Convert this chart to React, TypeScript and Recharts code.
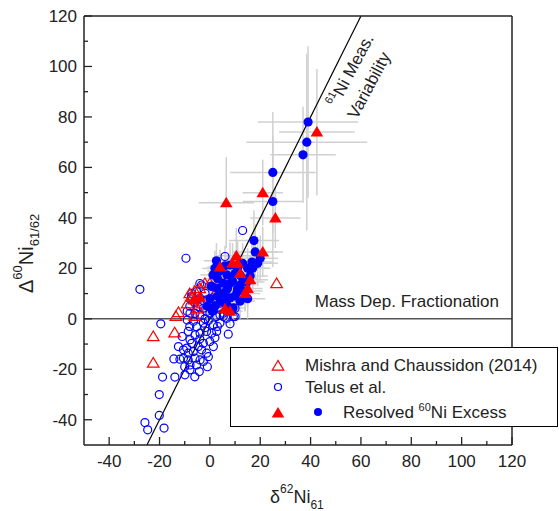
import React from "react"
import { ScatterChart, Scatter, XAxis, YAxis, ReferenceLine, ErrorBar } from "recharts"

// Telus et al. – unresolved (open circles)
const telusOpen: number[][] = [
  [-19.5, -2], [-8.6, -5], [-5.3, -3.1], [-2.6, -1.7], [-0.6, -0.7], [1.4, -2.4], [4, -1.7], [6.7, 0.2], [10, 0.9], [7.3, -6.1],
  [-7.9, -8.3], [-5.9, -6.4], [-3.9, -5.7], [-1.3, -5], [0.7, -5.7], [2.7, -5], [-9.2, -11.6], [-7.2, -9.7], [-4.6, -11], [-2.6, -9.7],
  [0, -9], [1.4, -11], [-10.5, -12.3], [-8.6, -13.6], [-6.6, -13], [-3.3, -12.3], [-1.3, -13.6], [-10.5, -15.6], [-11.9, -16], [-14.3, -15.9],
  [-8.6, -16.3], [-5.9, -15.6], [-3.9, -16.3], [-0.6, -15], [-7.9, -18.3], [-5.3, -18.3], [-2.6, -16.9], [-9.9, -22.2], [-7.9, -20.2], [-4.2, -20.9],
  [-13.9, -23.1], [-18.8, -23.1], [-20.1, -30], [-20.1, -38.3], [-25.8, -41.1], [-24.7, -44], [-18.2, -43.3], [4, 1.6], [5.3, 2.2], [1.4, 3.5],
  [-1.3, 2.9], [-3.9, 1.6], [-5.9, 2.2], [-9.5, 24], [-27.8, 11.7], [-3.3, 13.4], [-5.3, 10.8], [-1.9, 10.1], [-3.9, 8.2], [-1.3, 7.5],
  [-4.6, 4.8], [-2.6, 4.2], [0.7, 4.8], [-7.2, 10.1], [-7.9, 2.2], [0, 2.2], [2.7, 0.9], [5.3, 0.9], [9.3, 0.9], [10, 4.2],
  [6.7, 11.5], [6, 24.7], [0.7, 12.8], [2.7, 10.1], [4, 6.2], [6, 7.5], [13, 35], [-9, -0.5], [-6.5, -1], [-11, -7],
  [-12.5, -11], [-8, -3], [-2, -3.5], [2, -7.5], [-6, -23], [-10, -19], [-1, -19], [3, -3], [-4, -8], [8, -2],
  [-8, 5], [-6, 6.5], [3, 8], [-2, 0], [-4, 14], [-7.3, 8.8], [-9, 3],
]

// Mishra and Chaussidon (2014) – unresolved (open triangles)
const mishraOpen: number[][] = [
  [26.5, 14], [-12.5, 2.5], [-13.5, 1], [-22.5, -7], [-14, -5.5], [-22.5, -17.5], [-6, 11], [-7, 8.5], [-2, 14],
  [0, 14], [-6, 1], [-4, 12], [-8, 10], [2, 10], [-3, 6], [-5, 4], [4, 15], [-9, 6],
]

// resolved 60Ni excess: [x, y, xErr, yErr]
const telusResolved: number[][] = [
  [39, 78, 20, 30], [38.5, 70, 24, 35], [37, 65, 13, 19], [25, 58, 17, 24], [25, 46.5, 12, 26], [17.5, 31, 10, 12],
  [18, 26.5, 9, 11], [20, 24, 7, 9], [16.7, 22.5, 8, 9], [15, 20, 7, 8], [12, 17.4, 6, 8], [10.8, 10.6, 6, 7],
  [8, 21.3, 7, 9], [6.8, 17.4, 6, 8], [5.2, 14.2, 5, 7], [2.8, 12.2, 5, 6], [4, 6.7, 4, 6], [8, 8.3, 5, 6],
  [12, 13.4, 6, 7], [1.2, 17.4, 5, 7], [6.8, 5.5, 5, 6], [9.2, 4.3, 5, 6], [14.7, 14.6, 7, 8], [1, 3, 4, 5],
  [2, 5, 4, 5], [3, 9, 4, 6], [0, 8, 4, 5], [5, 10, 5, 6], [7, 12, 5, 7], [9, 15, 6, 7], [10, 18, 6, 8],
  [11, 20, 6, 8], [13, 16, 6, 7], [14, 11, 7, 8], [16, 17, 7, 8], [17, 20, 7, 9], [19, 22, 8, 9], [3, 16, 5, 7],
  [4, 19, 5, 7], [6, 21, 6, 8], [8, 14, 6, 7], [10, 9, 6, 7], [12, 7, 6, 7], [15, 8, 7, 8], [-1, 5, 4, 5],
  [0.5, 13, 4, 6], [2, 20, 5, 7], [11, 12, 6, 7], [13, 22, 7, 8], [7, 8, 5, 6], [2.6, 23, 5, 7],
]

const mishraResolved: number[][] = [
  [42.5, 74, 15, 25], [21, 50, 8, 13], [6.5, 46, 11, 18], [26, 40, 10, 12], [21, 26.5, 8, 10], [10.5, 25, 8, 11],
  [11, 22, 6, 9], [16, 15.5, 7, 8], [15, 12, 6, 8], [-6.5, 7.5, 4, 6], [-4, 8.5, 4, 6], [4, 20.5, 5, 7],
  [9, 22, 6, 8], [12, 18, 6, 8], [14, 10, 6, 7], [6, 4, 5, 6], [8, 3, 5, 6],
]

const axisTicks = [-40, -30, -20, -10, 0, 10, 20, 30, 40, 50, 60, 70, 80, 90, 100, 110, 120]
const DOMAIN: [number, number] = [-50, 120]

const toPts = (arr: number[][]) => arr.map(([x, y, ex, ey]) => ({ x, y, ex: ex ?? 0, ey: ey ?? 0 }))

const RED = "#ff0000"
const BLUE = "#0000ff"
const INK = "#222"
const FONT = "'Liberation Sans', Arial, sans-serif"

const isMajor = (v: number) => v % 20 === 0

const BottomTick = ({ x, y, payload }: any) => {
  const major = isMajor(payload.value)
  return (
    <g>
      <line x1={x} y1={y} x2={x} y2={y - (major ? 8 : 4)} stroke={INK} strokeWidth={1.3} />
      {major && (
        <text x={x} y={y + 22} textAnchor="middle" fontSize={17} fill={INK}>
          {payload.value}
        </text>
      )}
    </g>
  )
}

const LeftTick = ({ x, y, payload }: any) => {
  const major = isMajor(payload.value)
  return (
    <g>
      <line x1={x} y1={y} x2={x + (major ? 8 : 4)} y2={y} stroke={INK} strokeWidth={1.3} />
      {major && (
        <text x={x - 7} y={y + 6} textAnchor="end" fontSize={17} fill={INK}>
          {payload.value}
        </text>
      )}
    </g>
  )
}

const TopTick = ({ x, y, payload }: any) => (
  <line x1={x} y1={y} x2={x} y2={y + (isMajor(payload.value) ? 8 : 4)} stroke={INK} strokeWidth={1.3} />
)

const RightTick = ({ x, y, payload }: any) => (
  <line x1={x} y1={y} x2={x - (isMajor(payload.value) ? 8 : 4)} y2={y} stroke={INK} strokeWidth={1.3} />
)

const triPts = (cx: number, cy: number, s: number) =>
  `${cx},${cy - s} ${cx - s * 1.05},${cy + s * 0.75} ${cx + s * 1.05},${cy + s * 0.75}`

const OpenCircle = ({ cx, cy }: any) => <circle cx={cx} cy={cy} r={4} fill="none" stroke={BLUE} strokeWidth={1.2} />
const FilledCircle = ({ cx, cy }: any) => <circle cx={cx} cy={cy} r={4.6} fill={BLUE} />
const OpenTri = ({ cx, cy }: any) => <polygon points={triPts(cx, cy, 5.5)} fill="none" stroke={RED} strokeWidth={1.2} />
const FilledTri = ({ cx, cy }: any) => <polygon points={triPts(cx, cy, 6)} fill={RED} />
const NoMark = () => <g />

export default function App() {
  const errData = [...toPts(telusResolved), ...toPts(mishraResolved)]
  return (
    <div style={{ position: "absolute", left: 0, top: 0, width: 559, height: 511, background: "#fff", fontFamily: FONT }}>
      <ScatterChart width={559} height={511} margin={{ top: 15, right: 46, bottom: 36, left: 24 }}>
        <XAxis
          type="number"
          dataKey="x"
          domain={DOMAIN}
          ticks={axisTicks}
          interval={0}
          height={30}
          tickSize={0}
          tickMargin={0}
          tickLine={false}
          tick={<BottomTick />}
          axisLine={{ stroke: INK, strokeWidth: 1.5 }}
        />
        <XAxis
          xAxisId="top"
          orientation="top"
          type="number"
          dataKey="x"
          domain={DOMAIN}
          ticks={axisTicks}
          interval={0}
          height={1}
          tickSize={0}
          tickMargin={0}
          tickLine={false}
          tick={<TopTick />}
          axisLine={{ stroke: INK, strokeWidth: 1.5 }}
        />
        <YAxis
          type="number"
          dataKey="y"
          domain={DOMAIN}
          ticks={axisTicks}
          interval={0}
          width={60}
          tickSize={0}
          tickMargin={0}
          tickLine={false}
          tick={<LeftTick />}
          axisLine={{ stroke: INK, strokeWidth: 1.5 }}
        />
        <YAxis
          yAxisId="right"
          orientation="right"
          type="number"
          dataKey="y"
          domain={DOMAIN}
          ticks={axisTicks}
          interval={0}
          width={1}
          tickSize={0}
          tickMargin={0}
          tickLine={false}
          tick={<RightTick />}
          axisLine={{ stroke: INK, strokeWidth: 1.5 }}
        />
        <Scatter xAxisId="top" yAxisId="right" data={[]} isAnimationActive={false} shape={<NoMark />} />

        <ReferenceLine y={0} stroke="#555" strokeWidth={1.5} />

        <Scatter data={errData} isAnimationActive={false} shape={<NoMark />}>
          <ErrorBar dataKey="ex" direction="x" width={0} stroke="#d0d0d0" strokeWidth={1.5} isAnimationActive={false} />
          <ErrorBar dataKey="ey" direction="y" width={0} stroke="#d0d0d0" strokeWidth={1.5} isAnimationActive={false} />
        </Scatter>

        <ReferenceLine
          segment={[{ x: -25, y: -50 }, { x: 60, y: 120 }]}
          stroke="#000"
          strokeWidth={1.2}
        />

        <Scatter data={toPts(telusOpen)} isAnimationActive={false} shape={<OpenCircle />} />
        <Scatter data={toPts(mishraOpen)} isAnimationActive={false} shape={<OpenTri />} />
        <Scatter data={toPts(telusResolved)} isAnimationActive={false} shape={<FilledCircle />} />
        <Scatter data={toPts(mishraResolved)} isAnimationActive={false} shape={<FilledTri />} />
      </ScatterChart>

      {/* annotations, axis titles and legend */}
      <svg width={559} height={511} style={{ position: "absolute", left: 0, top: 0, pointerEvents: "none" }}>
        <text x={499} y={307} textAnchor="end" fontSize={17} fill={INK}>
          Mass Dep. Fractionation
        </text>

        <g transform="translate(337,108) rotate(-62)" fill={INK}>
          <text x={0} y={0} fontSize={17}>
            <tspan fontSize={11} dy={-7}>61</tspan>
            <tspan dy={7}>Ni Meas.</tspan>
          </text>
        </g>
        <g transform="translate(357,120) rotate(-62)" fill={INK}>
          <text x={0} y={0} fontSize={17}>Variability</text>
        </g>

        {/* x title */}
        <text x={270} y={503} fontSize={18} fill={INK}>
          <tspan>δ</tspan>
          <tspan fontSize={12} dy={-10}>62</tspan>
          <tspan dy={10}>Ni</tspan>
          <tspan fontSize={12} dy={6}>61</tspan>
        </text>

        {/* y title */}
        <g transform="translate(33,293) rotate(-90)">
          <text x={0} y={0} fontSize={20} fill={INK}>
            <tspan>Δ</tspan>
            <tspan fontSize={13} dy={-11}>60</tspan>
            <tspan dy={11}>Ni</tspan>
            <tspan fontSize={13} dy={6}>61/62</tspan>
          </text>
        </g>

        {/* legend */}
        <rect x={230.5} y={347.5} width={327} height={79} fill="#fff" stroke="#000" strokeWidth={1} />
        <polygon points={triPts(278, 366, 5.5)} fill="none" stroke={RED} strokeWidth={1.2} />
        <text x={305} y={371} fontSize={17} fill={INK}>Mishra and Chaussidon (2014)</text>
        <circle cx={278} cy={387} r={3.5} fill="none" stroke={BLUE} strokeWidth={1.2} />
        <text x={305} y={393} fontSize={17} fill={INK}>Telus et al.</text>
        <polygon points={triPts(278, 413, 6)} fill={RED} />
        <circle cx={318} cy={412} r={4} fill={BLUE} />
        <text x={343} y={418} fontSize={17} fill={INK}>
          <tspan>Resolved </tspan>
          <tspan fontSize={11} dy={-7}>60</tspan>
          <tspan dy={7}>Ni Excess</tspan>
        </text>
      </svg>
    </div>
  )
}
